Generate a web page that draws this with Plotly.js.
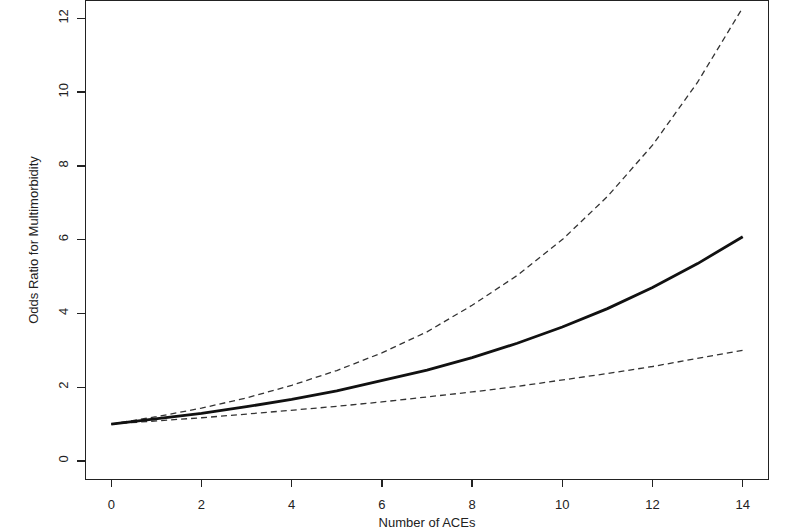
<!DOCTYPE html>
<html>
<head>
<meta charset="utf-8">
<script src="https://cdn.plot.ly/plotly-3.0.1.min.js"></script>
<style>html,body{margin:0;padding:0;background:#fff;}#chart{width:800px;height:530px;}</style>
</head>
<body>
<div id="chart"></div>
<script>
// Number of ACEs
const aces = [0, 1, 2, 3, 4, 5, 6, 7, 8, 9, 10, 11, 12, 13, 14];
// Odds ratio estimate (solid line)
const orEstimate = [1.00, 1.14, 1.29, 1.47, 1.67, 1.90, 2.17, 2.46, 2.80, 3.19, 3.63, 4.13, 4.70, 5.35, 6.08];
// Upper confidence bound (dashed)
const orUpper = [1.00, 1.20, 1.43, 1.71, 2.05, 2.45, 2.93, 3.50, 4.22, 5.03, 6.00, 7.17, 8.56, 10.27, 12.29];
// Lower confidence bound (dashed)
const orLower = [1.00, 1.08, 1.17, 1.27, 1.37, 1.48, 1.60, 1.73, 1.87, 2.02, 2.19, 2.37, 2.56, 2.77, 3.00];
const xTicks = [0, 2, 4, 6, 8, 10, 12, 14];
const yTicks = [0, 2, 4, 6, 8, 10, 12];

const font = {family: 'Liberation Sans, Arial, sans-serif', size: 13, color: '#222'};

const traces = [
  {x: aces, y: orUpper, mode: 'lines', line: {color: '#333', width: 1.3, dash: '6px,4px'}, hoverinfo: 'skip'},
  {x: aces, y: orLower, mode: 'lines', line: {color: '#333', width: 1.3, dash: '6px,4px'}, hoverinfo: 'skip'},
  {x: aces, y: orEstimate, mode: 'lines', line: {color: '#111', width: 2.8}, hoverinfo: 'skip'}
];

const layout = {
  width: 800, height: 530,
  margin: {l: 86, r: 32, t: 1, b: 51},
  paper_bgcolor: '#fff', plot_bgcolor: '#fff',
  showlegend: false,
  font: font,
  xaxis: {
    range: [-0.56, 14.56], tickvals: xTicks, ticktext: xTicks.map(String),
    showgrid: false, zeroline: false,
    showline: true, mirror: true, linecolor: '#222', linewidth: 1.3,
    ticks: 'outside', ticklen: 7, tickwidth: 1.3, tickcolor: '#222',
    ticklabelstandoff: 6,
    title: {text: 'Number of ACEs', font: font, standoff: 11}
  },
  yaxis: {
    range: [-0.49, 12.47], tickvals: yTicks, ticktext: yTicks.map(String),
    showgrid: false, zeroline: false,
    showline: true, mirror: true, linecolor: '#222', linewidth: 1.3,
    ticks: 'outside', ticklen: 8, tickwidth: 1.3, tickcolor: '#222',
    tickangle: -90, ticklabelstandoff: 4,
    title: {text: 'Odds Ratio for Multimorbidity', font: font, standoff: 14}
  }
};

Plotly.newPlot('chart', traces, layout, {staticPlot: true});
</script>
</body>
</html>
